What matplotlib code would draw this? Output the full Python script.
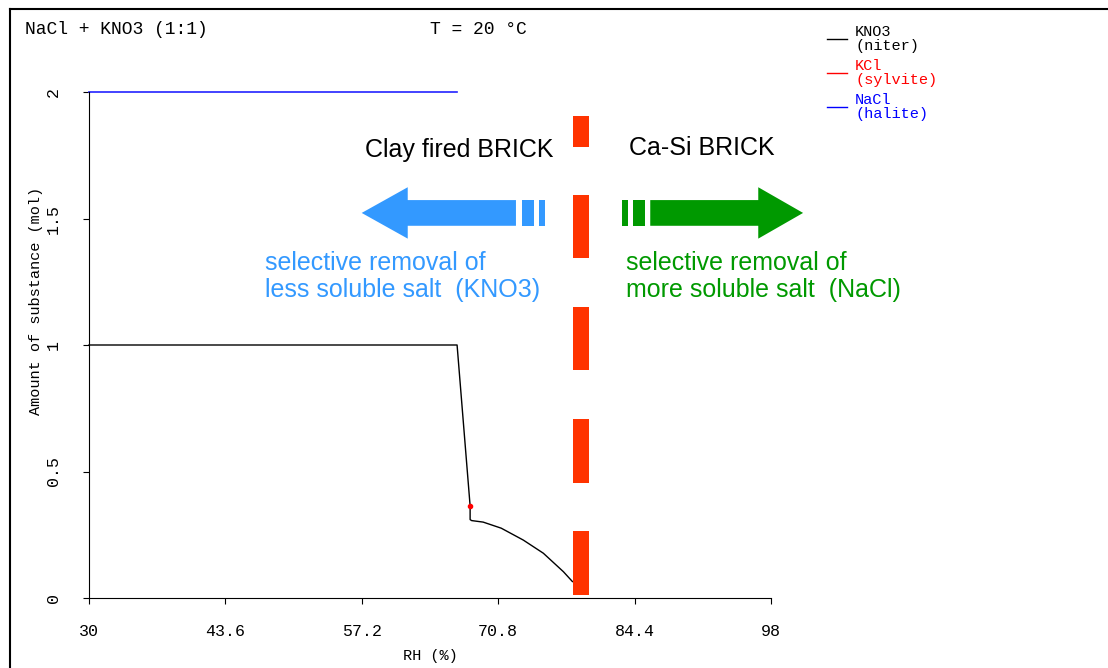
import numpy as np
import matplotlib
matplotlib.use('Agg')
import matplotlib.pyplot as plt
from matplotlib.patches import Polygon, Rectangle
from matplotlib.lines import Line2D

# ---- data ----
# KNO3 (niter) amount vs RH
rh_kno3 = [30.0, 66.7, 68.0, 68.0, 68.15, 69.3, 71.1, 73.3, 75.3, 77.3, 78.2]
n_kno3 = [1.0, 1.0, 0.364, 0.31, 0.306, 0.300, 0.276, 0.229, 0.177, 0.104, 0.065]
# NaCl (halite)
rh_nacl = [30.0, 66.7]
n_nacl = [2.0, 2.0]
# KCl (sylvite) - single point
rh_kcl = [68.0]
n_kcl = [0.364]

xticks = [30, 43.6, 57.2, 70.8, 84.4, 98]
xticklabels = ['30', '43.6', '57.2', '70.8', '84.4', '98']
yticks = [0, 0.5, 1, 1.5, 2]
yticklabels = ['0', '0.5', '1', '1.5', '2']

# red dashed boundary (RH position, dash segments in mol)
rh_boundary = 79.02
boundary_dashes = [(0.012, 0.265), (0.4565, 0.7075), (0.901, 1.150),
                   (1.344, 1.593), (1.783, 1.905)]

# arrows (RH extents, centre height in mol)
arrow_y = 1.522
blue_arrow = dict(tip=57.19, base=61.78, end=72.57, bars=[(73.14, 74.37), (74.87, 75.43)])
green_arrow = dict(tip=101.2, base=96.73, end=85.96, bars=[(85.43, 84.24), (83.74, 83.14)])

mono = 'Liberation Mono'
c_blue = '#3399ff'
c_green = '#009900'
c_red = '#ff3300'

fig = plt.figure(figsize=(11.08, 6.68), dpi=100)
ax = fig.add_axes([89/1108, 1-598/668, 682/1108, 506/668])

ax.plot(rh_nacl, n_nacl, color='#2222ff', lw=1.2, clip_on=False)
ax.plot(rh_kno3, n_kno3, color='black', lw=1.0, clip_on=False)
ax.plot(rh_kcl, n_kcl, 'o', color='red', ms=3, clip_on=False)

ax.set_xlim(30, 98)
ax.set_ylim(0, 2)
ax.spines['top'].set_visible(False)
ax.spines['right'].set_visible(False)
ax.set_xticks(xticks)
ax.set_xticklabels(xticklabels, fontfamily=mono, fontsize=12)
ax.set_yticks(yticks)
ax.set_yticklabels(yticklabels, fontfamily=mono, fontsize=12, rotation=90, va='center')
ax.tick_params(axis='x', length=4, pad=15)
ax.tick_params(axis='y', length=4, pad=16)
ax.set_xlabel('RH (%)', fontfamily=mono, fontsize=11)
ax.xaxis.set_label_coords(0.5, -0.1)
ax.set_ylabel('Amount of substance (mol)', fontfamily=mono, fontsize=11)
ax.yaxis.set_label_coords(-0.068, 0.587)

# boundary
w = 0.8
for y0, y1 in boundary_dashes:
    ax.add_patch(Rectangle((rh_boundary - w, y0), 2*w, y1 - y0, color=c_red,
                           lw=0, clip_on=False, zorder=3))

def draw_arrow(a, color):
    hw, sw = 0.1016, 0.0508
    pts = [(a['tip'], arrow_y), (a['base'], arrow_y + hw), (a['base'], arrow_y + sw),
           (a['end'], arrow_y + sw), (a['end'], arrow_y - sw), (a['base'], arrow_y - sw),
           (a['base'], arrow_y - hw)]
    ax.add_patch(Polygon(pts, closed=True, color=color, lw=0, clip_on=False))
    for x0, x1 in a['bars']:
        ax.add_patch(Rectangle((min(x0, x1), arrow_y - sw), abs(x1 - x0), 2*sw,
                               color=color, lw=0, clip_on=False))

draw_arrow(blue_arrow, c_blue)
draw_arrow(green_arrow, c_green)

ax.text(66.9, 1.771, 'Clay fired BRICK', fontsize=18, ha='center', va='center',
        fontfamily='Liberation Sans')
ax.text(83.84, 1.779, 'Ca-Si BRICK', fontsize=18, ha='left', va='center',
        fontfamily='Liberation Sans')
ax.text(47.55, 1.269, 'selective removal of\nless soluble salt  (KNO3)', fontsize=18,
        color=c_blue, ha='left', va='center', linespacing=1.16, fontfamily='Liberation Sans')
ax.text(83.54, 1.269, 'selective removal of\nmore soluble salt  (NaCl)', fontsize=18,
        color=c_green, ha='left', va='center', linespacing=1.16, fontfamily='Liberation Sans')

# header
fig.text(25/1108, 1-30/668, 'NaCl + KNO3 (1:1)', fontfamily=mono, fontsize=13, va='center')
fig.text(430/1108, 1-30/668, 'T = 20 \u00b0C', fontfamily=mono, fontsize=13, va='center')

# legend
leg = [('KNO3', '(niter)', 'black', 39), ('KCl', '(sylvite)', 'red', 73),
       ('NaCl', '(halite)', 'blue', 107)]
for name, mineral, col, ly in leg:
    fig.add_artist(Line2D([827/1108, 847/1108], [1-ly/668, 1-ly/668], color=col, lw=1))
    fig.text(855/1108, 1-(ly-7)/668, name, color=col, fontfamily=mono, fontsize=11, va='center')
    fig.text(855/1108, 1-(ly+7)/668, mineral, color=col, fontfamily=mono, fontsize=11, va='center')

# frame
fig.add_artist(Line2D([10/1108, 10/1108], [0, 1-9/668], color='black', lw=1.5))
fig.add_artist(Line2D([10/1108, 1], [1-9/668, 1-9/668], color='black', lw=1.5))

fig.savefig('out.png', dpi=100)
